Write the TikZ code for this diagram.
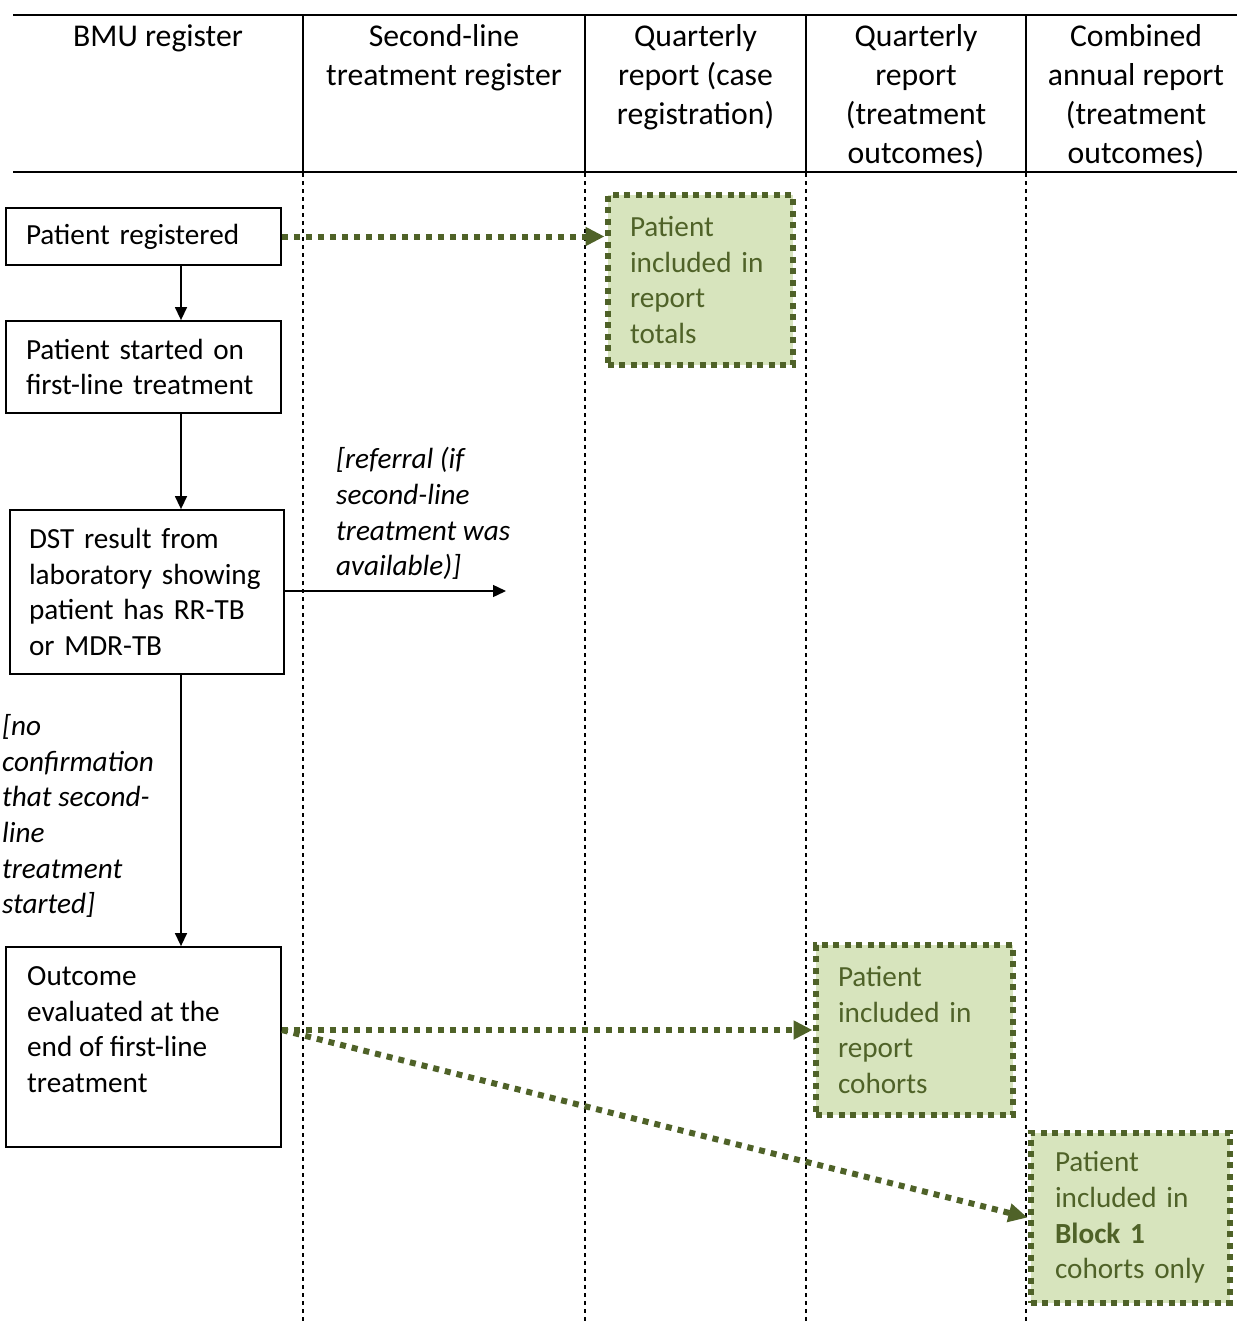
\documentclass[tikz,border=0pt]{standalone}
\usepackage{fontspec}
\setmainfont{Carlito}
\usetikzlibrary{arrows.meta}
\definecolor{olivedark}{HTML}{4F6228}
\definecolor{olivelight}{HTML}{D7E4BD}
\begin{document}
\begin{tikzpicture}[x=1pt,y=-1pt,
  bodytxt/.style={font=\fontsize{29.2}{35.7}\selectfont, inner sep=0},
  italtxt/.style={font=\fontsize{29.2}{35.7}\selectfont\itshape, inner sep=0, align=left, anchor=west},
  headtxt/.style={font=\fontsize{31.7}{39}\selectfont, inner sep=0, align=center},
  flowbox/.style={bodytxt, draw, line width=1.8, align=left},
  greenbox/.style={bodytxt, draw=olivedark, fill=olivelight, text=olivedark, line width=6,
    dash pattern=on 6 off 5.5, align=left, minimum height=170},
  flowarrow/.style={line width=1.4, -{Triangle[length=13,width=12]}},
  greenarrow/.style={draw=olivedark, line width=6, dash pattern=on 6 off 6,
    -{Triangle[length=19,width=18,fill=olivedark]}},
  lanesolid/.style={line width=1.6},
  lanedot/.style={line width=2.8, dash pattern=on 4 off 4},
  ruleline/.style={line width=2}]
\useasboundingbox (0,0) rectangle (1237,1325);

% header rules and lane separators
\draw[ruleline] (13,15) -- (1237,15);
\draw[ruleline] (13,172) -- (1237,172);
\foreach \xx in {303,585,806,1026}{
  \draw[lanesolid] (\xx,15) -- (\xx,172);
  \draw[lanedot] (\xx,173) -- (\xx,1325);
}

% header texts
\node[headtxt] (h1) at (158,38) {BMU register};
\node[headtxt] (h2) at (444,57.5) {Second-line\\treatment register};
\node[headtxt] (h3) at (695.5,77) {Quarterly\\report (case\\registration)};
\node[headtxt] (h4) at (916,96.5) {Quarterly\\report\\(treatment\\outcomes)};
\node[headtxt] (h5) at (1136,96.5) {Combined\\annual report\\(treatment\\outcomes)};

% flow boxes
\node[flowbox, minimum width=275, minimum height=57, text width=235] (b1) at (143.5,236.5) {Patient registered};
\node[flowbox, minimum width=275, minimum height=92, text width=235] (b2) at (143.5,367) {Patient started on\\first-line treatment};
\node[flowbox, minimum width=274, minimum height=164, text width=236] (b3) at (147,592) {DST result from\\laboratory showing\\patient has RR-TB\\or MDR-TB};
\node[flowbox, minimum width=275, minimum height=200] (b4) at (143.5,1047) {};
\node[bodytxt, anchor=west, align=left] (b4t) at (27,1029.5) {Outcome\\evaluated at the\\end of first-line\\treatment};

% green boxes
\node[greenbox, minimum width=185, text width=140] (g1) at (700,280) {Patient\\included in\\report\\totals};
\node[greenbox, minimum width=197, text width=152] (g2) at (914,1030) {Patient\\included in\\report\\cohorts};
\node[greenbox, minimum width=199, text width=150] (g3) at (1130,1217.5) {Patient\\included in\\\textbf{Block 1}\\cohorts~only};

% labels
\node[italtxt] (lref) at (336,513.5) {[referral (if\\second-line\\treatment was\\available)]};
\node[italtxt] (lno) at (2,816) {[no\\confirmation\\that second-\\line\\treatment\\started]};

% black connectors
\coordinate (ax) at (181,0);
\coordinate (refend) at (506,591);
\draw[flowarrow] (b1.south -| ax) -- (b2.north -| ax);
\draw[flowarrow] (b2.south -| ax) -- (b3.north -| ax);
\draw[flowarrow] (b3.south -| ax) -- (b4.north -| ax);
\draw[flowarrow] (b3.east |- refend) -- (refend);

% green connectors
\draw[greenarrow] (b1.east) -- (g1.west |- b1.east);
\draw[greenarrow] (b4.east |- g2.west) -- (g2.west);
\draw[greenarrow] (b4.east |- g2.west) -- (g3.west);
\end{tikzpicture}
\end{document}
